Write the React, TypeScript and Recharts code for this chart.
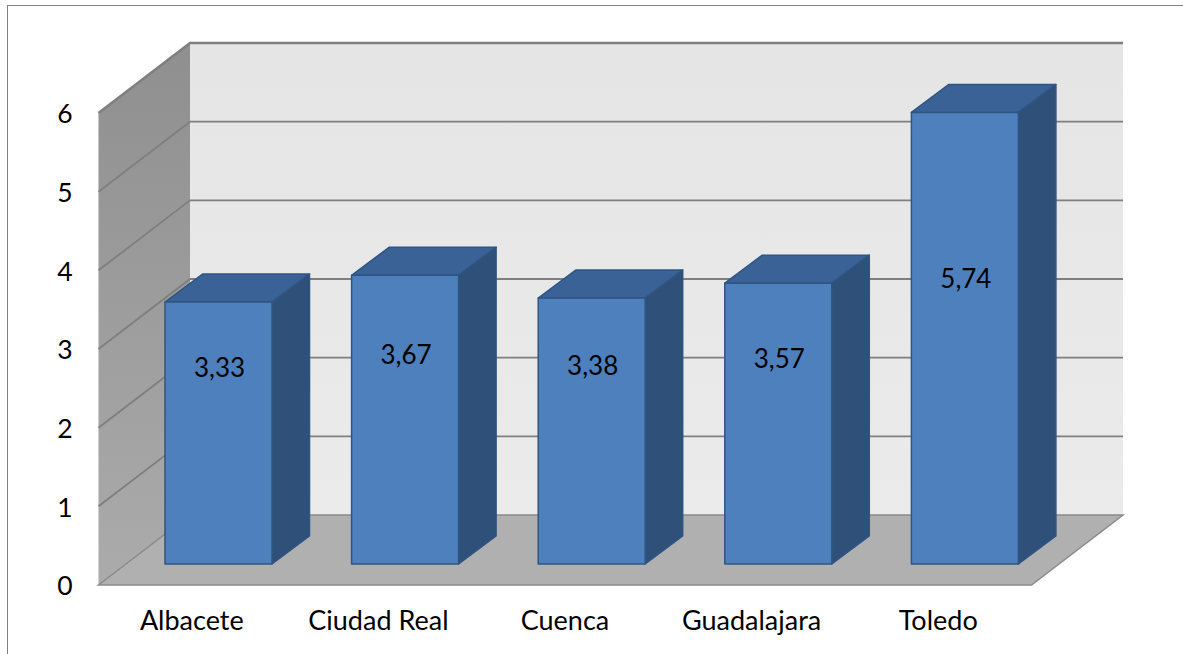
import { BarChart, Bar, XAxis, YAxis, ReferenceArea, LabelList } from 'recharts';

const provincias = ['Albacete', 'Ciudad Real', 'Cuenca', 'Guadalajara', 'Toledo'];
const valores = [3.33, 3.67, 3.38, 3.57, 5.74];
const yTicks = [0, 1, 2, 3, 4, 5, 6];
const yMax = 6;

const data = provincias.map((name, i) => ({ name, value: valores[i] }));

// 3D projection of the Excel chart: how far the back wall and the bars are pushed
const WALL_DX = 91.5;
const WALL_DY = 70;
const BAR_DX = 26.5;
const BAR_DY = 21;
const DEPTH_DX = 37.5;
const DEPTH_DY = 28;

const Walls = ({ x, y, width, height }: any) => {
    const bottom = y + height;
    const right = x + width;
    return (
        <g>
            <defs>
                <linearGradient id="sideWall" x1="0" y1="0" x2="0" y2="1">
                    <stop offset="0%" stopColor="#8f8f8f" />
                    <stop offset="100%" stopColor="#ababab" />
                </linearGradient>
                <linearGradient id="backWall" x1="0" y1="0" x2="0" y2="1">
                    <stop offset="0%" stopColor="#e5e5e5" />
                    <stop offset="100%" stopColor="#ebebeb" />
                </linearGradient>
            </defs>
            <rect x={x + WALL_DX} y={y - WALL_DY} width={width} height={height} fill="url(#backWall)" />
            <polygon
                points={`${x},${y} ${x + WALL_DX},${y - WALL_DY} ${x + WALL_DX},${bottom - WALL_DY} ${x},${bottom}`}
                fill="url(#sideWall)"
            />
            <polygon
                points={`${x},${bottom} ${x + WALL_DX},${bottom - WALL_DY} ${right + WALL_DX},${bottom - WALL_DY} ${right},${bottom}`}
                fill="#b0b0b0"
            />
            <path
                d={`M${x},${bottom} L${x + WALL_DX},${bottom - WALL_DY} L${right + WALL_DX},${bottom - WALL_DY} L${right},${bottom} Z`}
                fill="none"
                stroke="#8a8a8a"
                strokeWidth={1.5}
            />
            {yTicks.slice(1).map((t) => {
                const ty = bottom - (height * t) / yMax;
                return (
                    <path
                        key={t}
                        d={`M${x},${ty} L${x + WALL_DX},${ty - WALL_DY} L${right + WALL_DX},${ty - WALL_DY}`}
                        fill="none"
                        stroke="#7f7f7f"
                        strokeWidth={t === yMax ? 2.5 : 1.8}
                    />
                );
            })}
        </g>
    );
};

const Bar3D = ({ x, y, width, height }: any) => {
    const left = x + BAR_DX;
    const right = left + width;
    const top = y - BAR_DY;
    const bottom = y + height - BAR_DY;
    return (
        <g stroke="#2f5583" strokeWidth={1.5} strokeLinejoin="round">
            <polygon
                points={`${left},${top} ${left + DEPTH_DX},${top - DEPTH_DY} ${right + DEPTH_DX},${top - DEPTH_DY} ${right},${top}`}
                fill="#3a6296"
            />
            <polygon
                points={`${right},${top} ${right + DEPTH_DX},${top - DEPTH_DY} ${right + DEPTH_DX},${bottom - DEPTH_DY} ${right},${bottom}`}
                fill="#2f5078"
            />
            <rect x={left} y={top} width={width} height={height} fill="#4e80bd" />
        </g>
    );
};

const BarValue = ({ x, y, width, height, value }: any) => (
    <text
        x={x + BAR_DX + 1 + width / 2}
        y={y + height - 95 - 0.47 * height}
        textAnchor="middle"
        dominantBaseline="central"
        fontFamily="Lato"
        fontSize={26}
        fill="#000"
    >
        {String(value).replace('.', ',')}
    </text>
);

export default function App() {
    return (
        <div style={{ position: 'absolute', left: 0, top: 0, width: 1183, height: 654, overflow: 'hidden', background: '#fff' }}>
            <div
                style={{
                    position: 'absolute',
                    left: 7,
                    top: 5,
                    right: -4,
                    bottom: -4,
                    borderLeft: '1.5px solid #808080',
                    borderTop: '1.5px solid #808080',
                }}
            />
            <div style={{ position: 'absolute', left: 0, top: 0 }}>
                <BarChart
                    width={1183}
                    height={654}
                    data={data}
                    margin={{ top: 113, right: 151.5, bottom: 29, left: 58.5 }}
                    barSize={107}
                >
                    <XAxis
                        dataKey="name"
                        axisLine={false}
                        tickLine={false}
                        tickSize={0}
                        tickMargin={26}
                        height={40}
                        interval={0}
                        tick={{ fontFamily: 'Lato', fontSize: 27, fill: '#000' }}
                    />
                    <YAxis
                        domain={[0, yMax]}
                        ticks={yTicks}
                        axisLine={false}
                        tickLine={false}
                        tickSize={0}
                        tickMargin={26}
                        width={40}
                        tick={{ fontFamily: 'Lato', fontSize: 26.5, fill: '#000', dy: 1 }}
                    />
                    <ReferenceArea y1={0} y2={yMax} ifOverflow="visible" shape={<Walls />} />
                    <Bar dataKey="value" isAnimationActive={false} shape={<Bar3D />}>
                        <LabelList dataKey="value" content={<BarValue />} />
                    </Bar>
                </BarChart>
            </div>
        </div>
    );
}
